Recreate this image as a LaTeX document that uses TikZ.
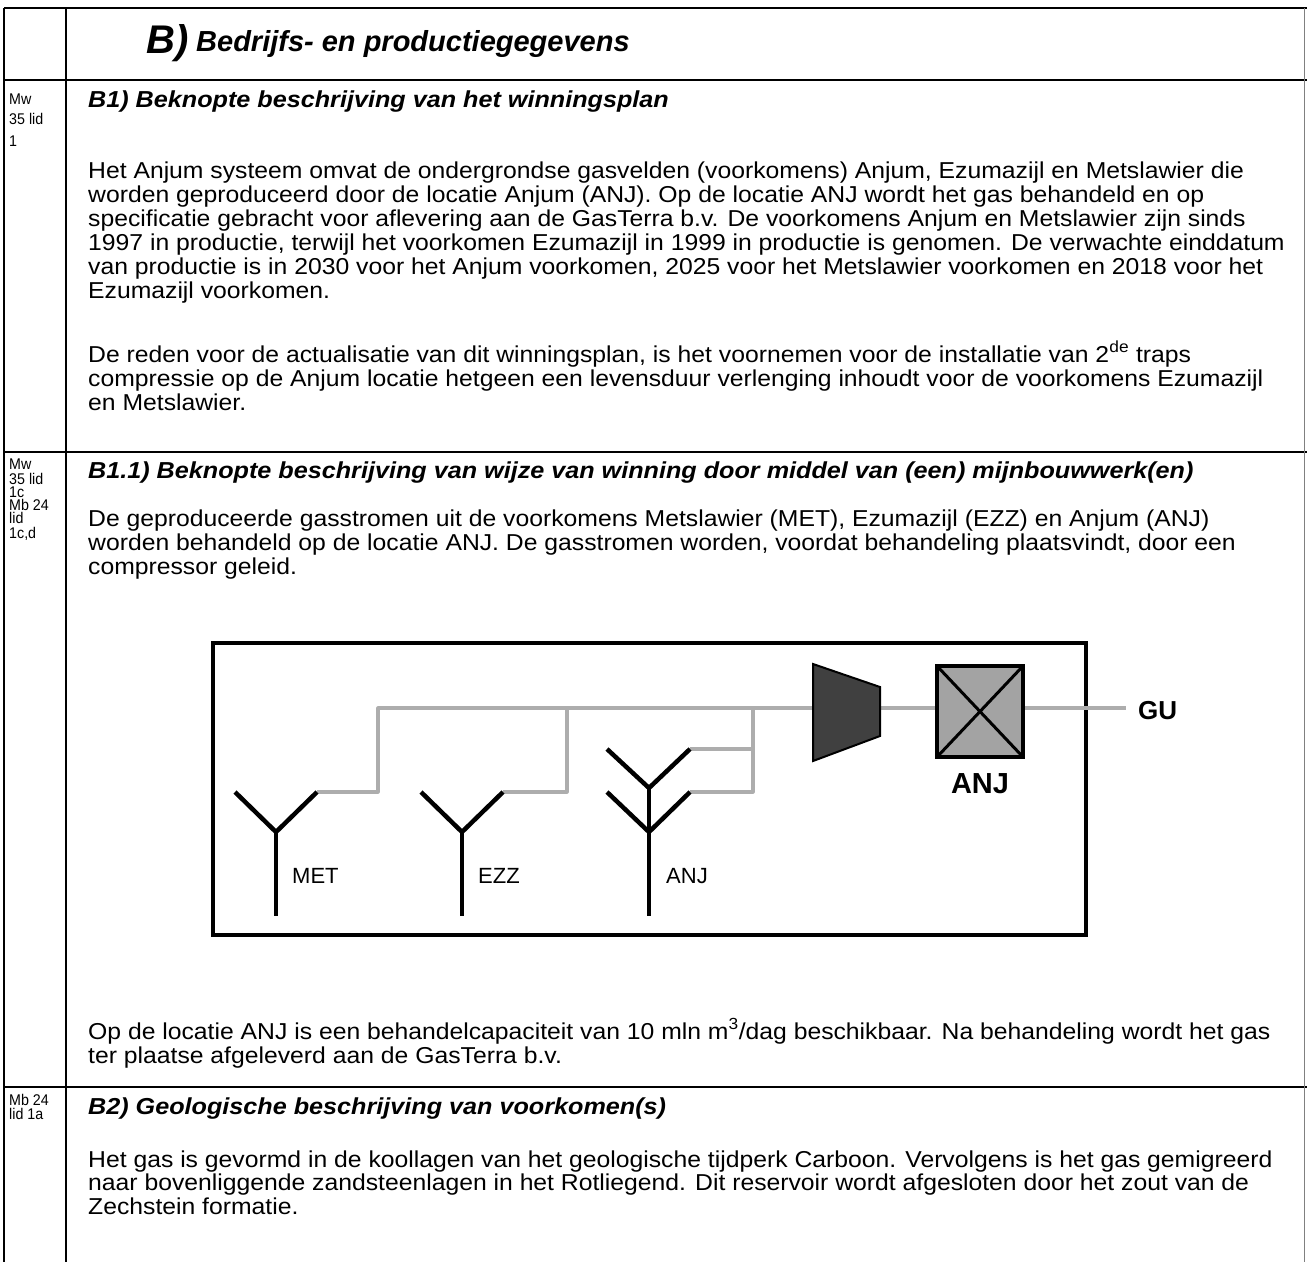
\documentclass[tikz,border=0pt]{standalone}
\usepackage{fontspec}
\setmainfont{Liberation Sans}
\newfontfamily\bodyfont[FakeStretch=1.075]{Liberation Sans}
\newfontfamily\ttlfont[FakeStretch=1.09]{Liberation Sans}
\newfontfamily\lblfont[FakeStretch=0.92]{Liberation Sans}
\definecolor{pipegray}{gray}{0.68}
\definecolor{compgray}{gray}{0.25}
\definecolor{boxgray}{gray}{0.64}
\begin{document}
\begin{tikzpicture}[x=1pt,y=-1pt,
  rule/.style={line width=1.8pt, black},
  body/.style={anchor=base west, inner sep=0pt, font=\bodyfont\fontsize{23}{23}\selectfont},
  ttl/.style={anchor=base west, inner sep=0pt, font=\ttlfont\fontsize{23.1}{23}\selectfont\bfseries\itshape},
  lbl/.style={anchor=base west, inner sep=0pt, font=\lblfont\fontsize{15.5}{15}\selectfont},
  well/.style={line width=4.5pt, black, line join=miter},
  pipe/.style={line width=3.2pt, pipegray, line join=round},
  wlabel/.style={anchor=west, inner sep=0pt, font=\fontsize{22}{22}\selectfont}]
\useasboundingbox (0,0) rectangle (1307,1262);
% table
\draw[rule] (4,8) -- (1307,8);
\draw[rule] (4,80) -- (1307,80);
\draw[rule] (4,452) -- (1307,452);
\draw[rule] (4,1087) -- (1307,1087);
\draw[rule] (4,8) -- (4,1262);
\draw[rule] (66,8) -- (66,1262);
\draw[gray, line width=1pt] (1304,8) -- (1304,1262);
% header
\node[anchor=base west, inner sep=0pt, font=\fontsize{40}{40}\selectfont\bfseries\itshape] (hB) at (146,53) {B)};
\node[anchor=base west, inner sep=0pt, font=\fontsize{29}{29}\selectfont\bfseries\itshape] (hT) at (196,51) {Bedrijfs- en productiegegevens};
% B1
\node[lbl] (l1a) at (9,104) {Mw};
\node[lbl] (l1b) at (9,124) {35 lid};
\node[lbl] (l1c) at (9,146) {1};
\node[ttl] (t1) at (88,107) {B1) Beknopte beschrijving van het winningsplan};
\node[body] (p1a) at (88,178) {Het Anjum systeem omvat de ondergrondse gasvelden (voorkomens) Anjum, Ezumazijl en Metslawier die};
\node[body] (p1b) at (88,202) {worden geproduceerd door de locatie Anjum (ANJ). Op de locatie ANJ wordt het gas behandeld en op};
\node[body] (p1c) at (88,226) {specificatie gebracht voor aflevering aan de GasTerra b.v. De voorkomens Anjum en Metslawier zijn sinds};
\node[body] (p1d) at (88,250) {1997 in productie, terwijl het voorkomen Ezumazijl in 1999 in productie is genomen. De verwachte einddatum};
\node[body] (p1e) at (88,274) {van productie is in 2030 voor het Anjum voorkomen, 2025 voor het Metslawier voorkomen en 2018 voor het};
\node[body] (p1f) at (88,298) {Ezumazijl voorkomen.};
\node[body] (p2a) at (88,362) {De reden voor de actualisatie van dit winningsplan, is het voornemen voor de installatie van 2\textsuperscript{de} traps};
\node[body] (p2b) at (88,386) {compressie op de Anjum locatie hetgeen een levensduur verlenging inhoudt voor de voorkomens Ezumazijl};
\node[body] (p2c) at (88,410) {en Metslawier.};
% B1.1
\node[lbl] (l2a) at (9,469) {Mw};
\node[lbl] (l2b) at (9,484) {35 lid};
\node[lbl] (l2c) at (9,497) {1c};
\node[lbl] (l2d) at (9,510) {Mb 24};
\node[lbl] (l2e) at (9,523) {lid};
\node[lbl] (l2f) at (9,538) {1c,d};
\node[ttl] (t2) at (88,478) {B1.1) Beknopte beschrijving van wijze van winning door middel van (een) mijnbouwwerk(en)};
\node[body] (p3a) at (88,526) {De geproduceerde gasstromen uit de voorkomens Metslawier (MET), Ezumazijl (EZZ) en Anjum (ANJ)};
\node[body] (p3b) at (88,550) {worden behandeld op de locatie ANJ. De gasstromen worden, voordat behandeling plaatsvindt, door een};
\node[body] (p3c) at (88,574) {compressor geleid.};
% diagram frame
\draw[line width=3.5pt] (213,643) rectangle (1086,935);
% well coordinates
\coordinate (metJ) at (276,832); \coordinate (metL) at (235,792); \coordinate (metR) at (317,792); \coordinate (metB) at (276,916);
\coordinate (ezzJ) at (462,832); \coordinate (ezzL) at (421,792); \coordinate (ezzR) at (503,792); \coordinate (ezzB) at (462,916);
\coordinate (anjJ) at (649,832); \coordinate (anjK) at (649,788);
\coordinate (anjL) at (607,792); \coordinate (anjR) at (690,792);
\coordinate (anjUL) at (607,749); \coordinate (anjUR) at (690,749); \coordinate (anjB) at (649,916);
\coordinate (gu) at (1126,708);
% pipes
\draw[pipe] (metR) -- (378,792) -- (378,708) -- (gu);
\draw[pipe] (ezzR) -- (567,792) -- (567,708);
\draw[pipe] (anjUR) -- (753,749);
\draw[pipe] (anjR) -- (753,792) -- (753,708);
% wells
\draw[well] (metL) -- (metJ) -- (metR); \draw[well] (metJ) -- (metB);
\draw[well] (ezzL) -- (ezzJ) -- (ezzR); \draw[well] (ezzJ) -- (ezzB);
\draw[well] (anjL) -- (anjJ) -- (anjR);
\draw[well] (anjUL) -- (anjK) -- (anjUR); \draw[well] (anjK) -- (anjB);
% compressor
\draw[line width=2pt, fill=compgray, line join=miter] (813,664) -- (880,687) -- (880,736) -- (813,761) -- cycle;
% treatment plant
\node[draw=black, line width=3.5pt, fill=boxgray, minimum width=86pt, minimum height=91pt, inner sep=0pt, outer sep=0pt] (plant) at (980,711.5) {};
\draw[line width=3pt] (plant.north west) -- (plant.south east);
\draw[line width=3pt] (plant.south west) -- (plant.north east);
% labels
\node[wlabel] (lmet) at (292,876) {MET};
\node[wlabel] (lezz) at (478,876) {EZZ};
\node[wlabel] (lanj) at (666,876) {ANJ};
\node[inner sep=0pt, font=\fontsize{29}{29}\selectfont\bfseries] (lplant) at (980,784) {ANJ};
\node[anchor=west, inner sep=0pt, font=\fontsize{26}{26}\selectfont\bfseries] (lgu) at (1138,711) {GU};
% after diagram
\node[body] (p4a) at (88,1039) {Op de locatie ANJ is een behandelcapaciteit van 10 mln m\textsuperscript{3}/dag beschikbaar. Na behandeling wordt het gas};
\node[body] (p4b) at (88,1063) {ter plaatse afgeleverd aan de GasTerra b.v.};
% B2
\node[lbl] (l3a) at (9,1105) {Mb 24};
\node[lbl] (l3b) at (9,1119) {lid 1a};
\node[ttl] (t3) at (88,1114) {B2) Geologische beschrijving van voorkomen(s)};
\node[body] (p5a) at (88,1167) {Het gas is gevormd in de koollagen van het geologische tijdperk Carboon. Vervolgens is het gas gemigreerd};
\node[body] (p5b) at (88,1190) {naar bovenliggende zandsteenlagen in het Rotliegend. Dit reservoir wordt afgesloten door het zout van de};
\node[body] (p5c) at (88,1214) {Zechstein formatie.};
\end{tikzpicture}
\end{document}
